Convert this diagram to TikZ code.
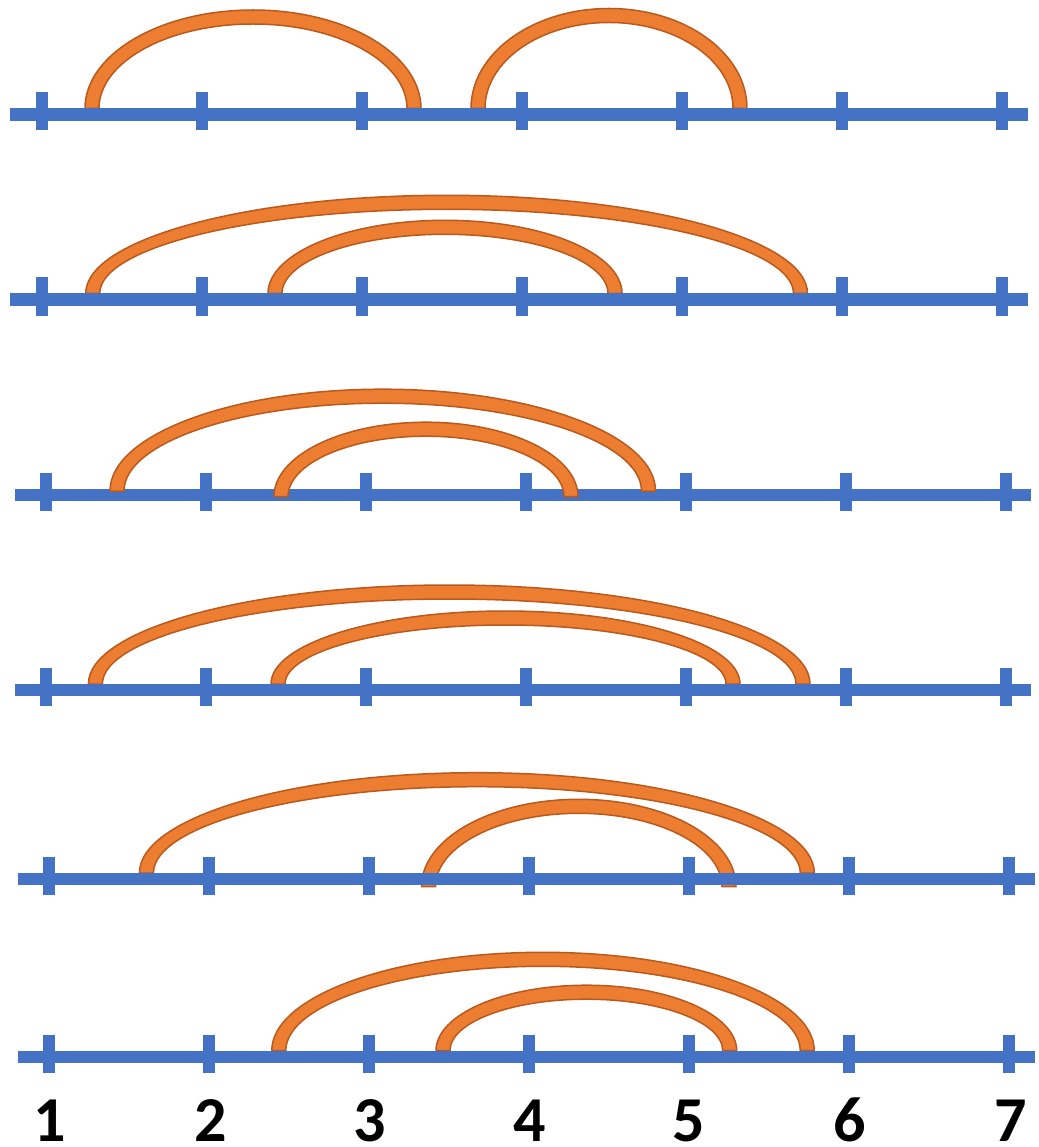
\documentclass[tikz,border=0pt]{standalone}
\usepackage{fontspec}
\setmainfont{Carlito}
\definecolor{axisblue}{HTML}{4472C4}
\definecolor{arcorange}{HTML}{ED7D31}
\definecolor{arcedge}{HTML}{B85A1E}
\tikzset{
  band/.style={fill=arcorange,draw=arcedge,line width=1.5pt,line join=round},
  axisbar/.style={fill=axisblue},
  digit/.style={anchor=base,inner sep=0pt,font=\fontsize{64}{64}\selectfont\bfseries}
}
% #1 centre x, #2 mid radius x, #3 mid radius y, #4 base (pixel y)
\newcommand\bandarc[4]{%
  \draw[band] ({#1-#2-7},{-#4}) arc[start angle=180,end angle=0,x radius={#2+7},y radius={#3+7}]
    -- ({#1+#2-7},{-#4}) arc[start angle=0,end angle=180,x radius={#2-7},y radius={#3-7}] -- cycle;}
% #1 line centre (pixel y), #2 start x, #3 end x, #4 first tick x
\newcommand\numline[4]{%
  \fill[axisbar] (#2,{-(#1-6.2)}) rectangle (#3,{-(#1+6.2)});
  \foreach \k in {0,...,6}{
    \fill[axisbar] ({#4+160*\k-6},{-(#1-22)}) rectangle ({#4+160*\k+6},{-(#1+16)});
  }}
\begin{document}
\begin{tikzpicture}[x=1pt,y=1pt]
\useasboundingbox (0,0) rectangle (1038,-1147);
% row 1
\bandarc{253}{161}{91.5}{108.5}
\bandarc{609}{131}{93}{108.5}
\numline{114.5}{10}{1028}{42}
% row 2
\bandarc{446.6}{353.9}{91.2}{293.5}
\bandarc{445}{170}{66.2}{293.5}
\numline{299.5}{10}{1028}{42}
% row 3
\numline{495}{14.6}{1031}{46}
\bandarc{382.75}{265.75}{94.8}{491}
\bandarc{426}{145}{67.5}{496.7}
% row 4
\bandarc{449.2}{353.8}{92}{684}
\bandarc{505.5}{227.5}{66}{684}
\numline{690}{14.6}{1031}{46}
% row 5
\bandarc{476.85}{330.45}{93.5}{873.2}
\bandarc{578.75}{150.25}{80.4}{886.7}
\numline{879.2}{18}{1035}{49}
% row 6
\bandarc{543}{264.25}{91.4}{1050.7}
\bandarc{586.35}{143.35}{58.5}{1050.7}
\numline{1056.7}{18}{1035}{49}
% labels
\node[digit] (d1) at (50,-1141.7) {1};
\node[digit] (d2) at (211,-1141.7) {2};
\node[digit] (d3) at (370,-1141.7) {3};
\node[digit] (d4) at (530,-1141.7) {4};
\node[digit] (d5) at (689,-1141.7) {5};
\node[digit] (d6) at (850,-1141.7) {6};
\node[digit] (d7) at (1011,-1141.7) {7};
\end{tikzpicture}
\end{document}
